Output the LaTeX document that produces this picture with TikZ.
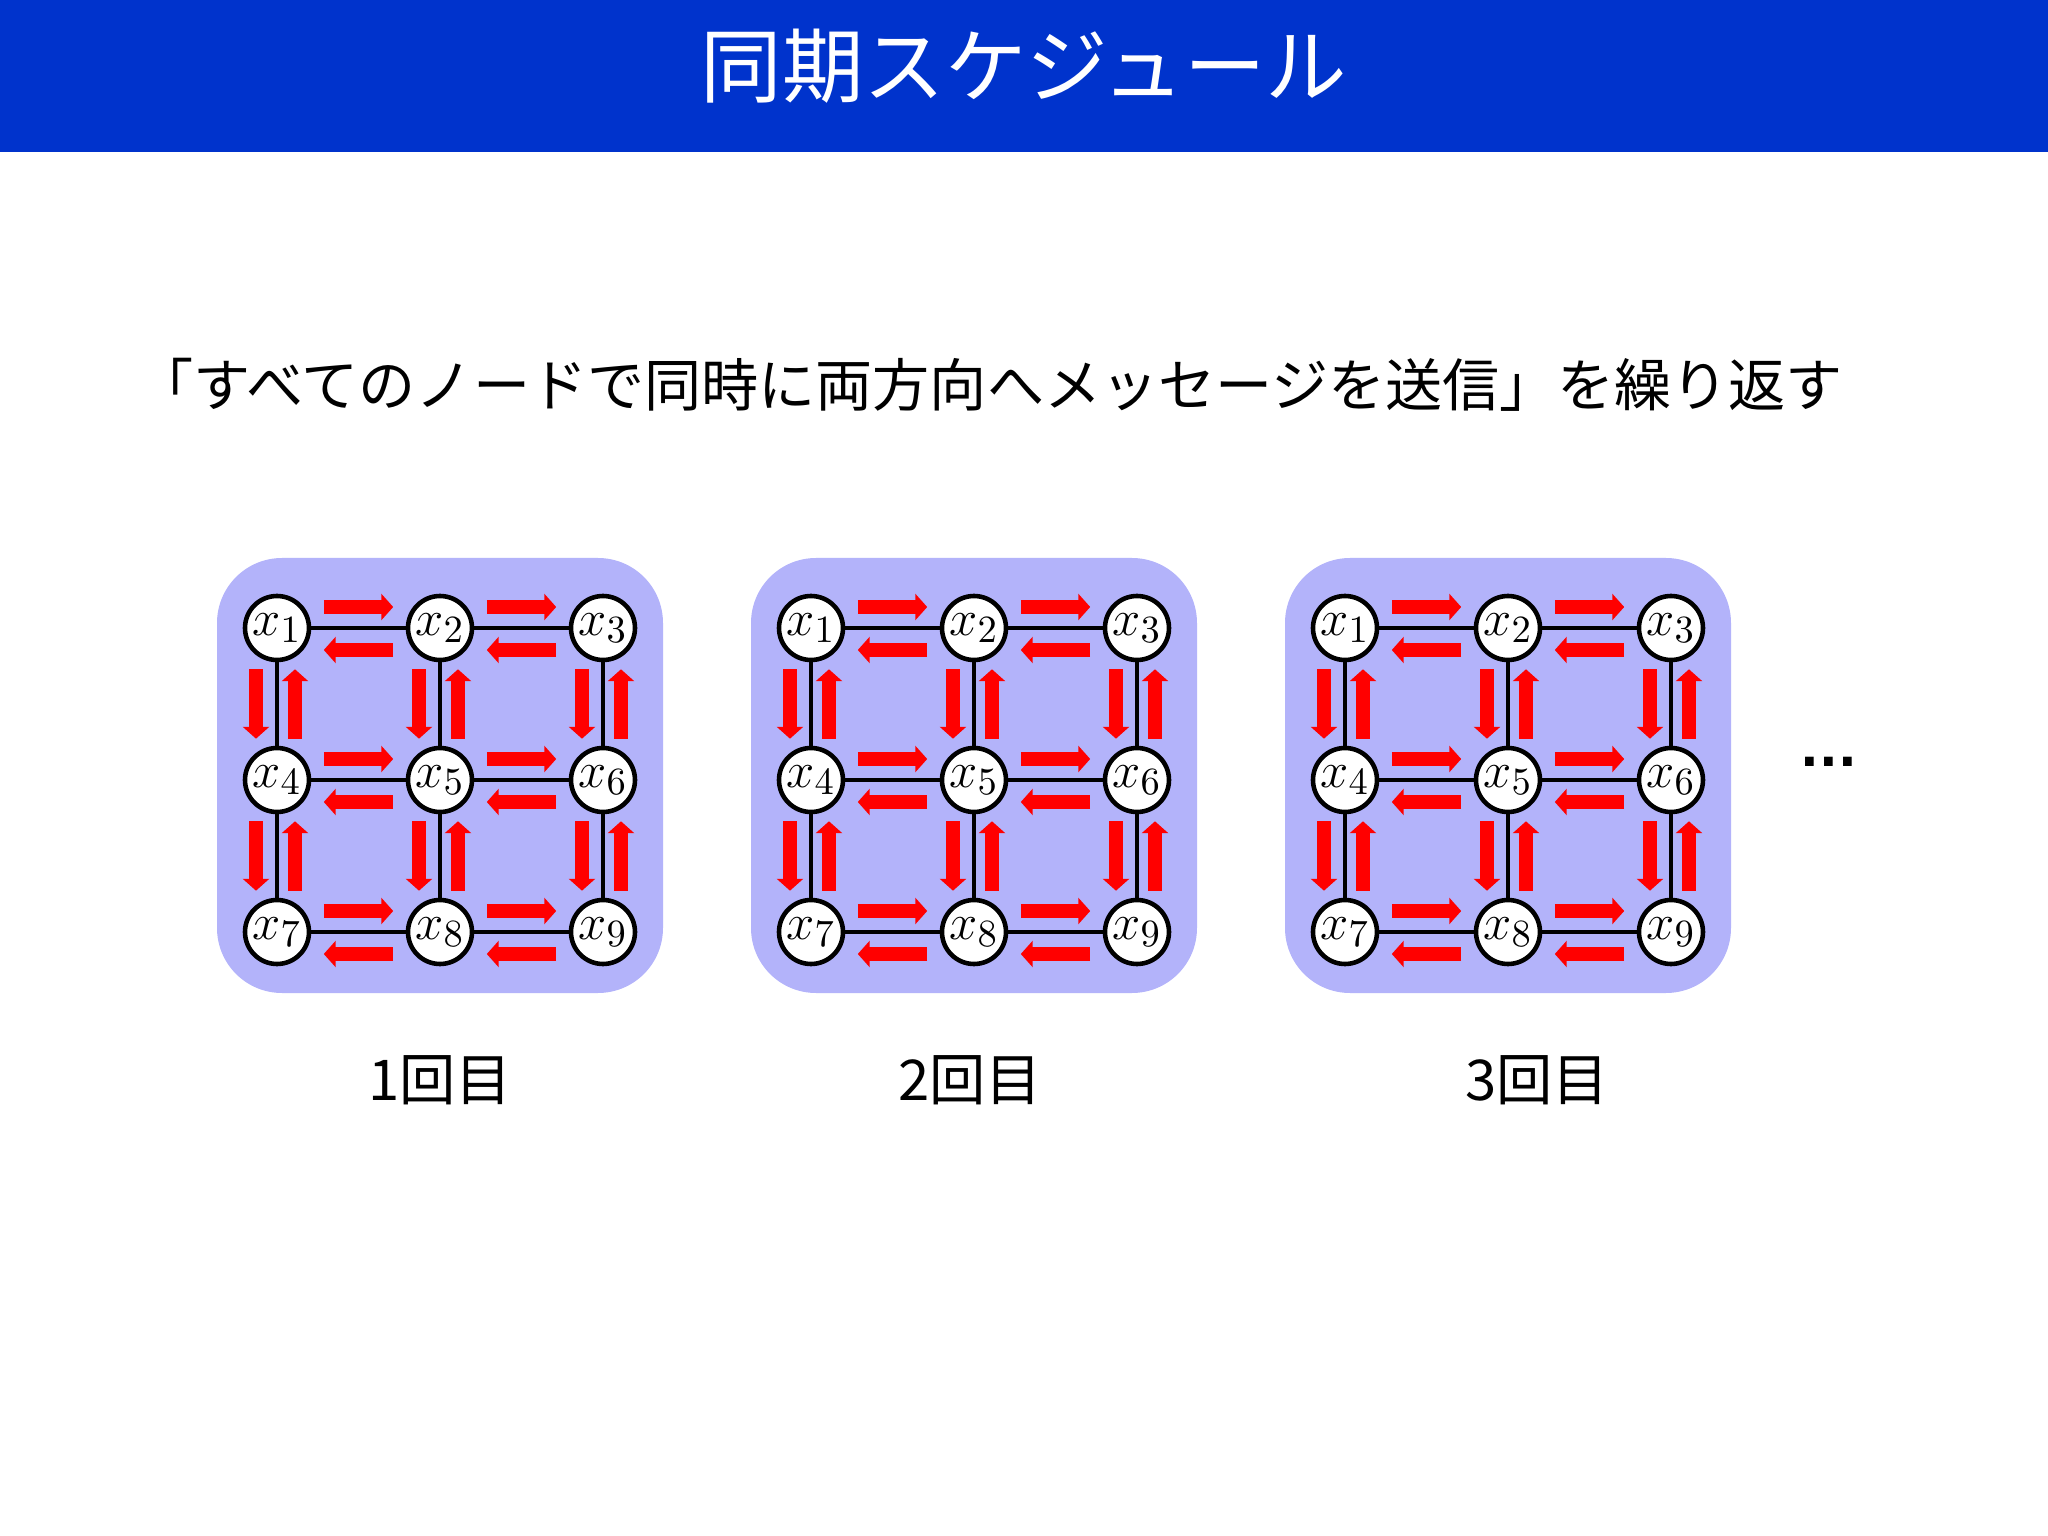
\documentclass[tikz,border=0pt]{standalone}
\usepackage{fontspec}
\usepackage{tikz}
\usetikzlibrary{arrows.meta}
\newfontfamily\jpfont{Noto Sans CJK JP}
\newfontfamily\dotfont{DejaVu Sans}
\definecolor{titleblue}{RGB}{0,51,204}
\definecolor{panelblue}{RGB}{179,179,250}
\tikzset{
  vtx/.style={shape=circle,draw=black,fill=white,line width=1.3pt,inner sep=0pt,minimum size=0.64cm,font=\fontsize{15.5}{15.5}\selectfont},
  link/.style={line width=1pt},
  msgh/.style={draw=red,line width=0.14cm,-{Triangle[width=7.4pt,length=3.4pt]},shorten <=1.25mm,shorten >=1.25mm},
  msgv/.style={draw=red,line width=0.14cm,-{Triangle[width=7.4pt,length=3.4pt]},shorten <=0.7mm,shorten >=0.7mm}
}
\newcommand{\hmsg}[2]{ \draw[msgh] ([yshift=2.1mm]#1.east) -- ([yshift=2.1mm]#2.west); \draw[msgh] ([yshift=-2.2mm]#2.west) -- ([yshift=-2.2mm]#1.east);}
\newcommand{\vmsg}[2]{ \draw[msgv] ([xshift=-2.1mm]#1.south) -- ([xshift=-2.1mm]#2.north); \draw[msgv] ([xshift=1.8mm]#2.north) -- ([xshift=1.8mm]#1.south);}
\newcommand{\gridpanel}[2]{
  \fill[panelblue,rounded corners=0.65cm] (#1-2.23,-5.58) rectangle (#1+2.23,-9.93);
  % row1
  \node[vtx] (#2x1) at (#1-1.63,-6.28) {$x_1$};
  \node[vtx] (#2x2) at (#1,-6.28) {$x_2$};
  \node[vtx] (#2x3) at (#1+1.63,-6.28) {$x_3$};
  % row2
  \node[vtx] (#2x4) at (#1-1.63,-7.80) {$x_4$};
  \node[vtx] (#2x5) at (#1,-7.80) {$x_5$};
  \node[vtx] (#2x6) at (#1+1.63,-7.80) {$x_6$};
  % row3
  \node[vtx] (#2x7) at (#1-1.63,-9.32) {$x_7$};
  \node[vtx] (#2x8) at (#1,-9.32) {$x_8$};
  \node[vtx] (#2x9) at (#1+1.63,-9.32) {$x_9$};
  % links
  \draw[link] (#2x1) -- (#2x2); \draw[link] (#2x2) -- (#2x3);
  \draw[link] (#2x4) -- (#2x5); \draw[link] (#2x5) -- (#2x6);
  \draw[link] (#2x7) -- (#2x8); \draw[link] (#2x8) -- (#2x9);
  \draw[link] (#2x1) -- (#2x4); \draw[link] (#2x4) -- (#2x7);
  \draw[link] (#2x2) -- (#2x5); \draw[link] (#2x5) -- (#2x8);
  \draw[link] (#2x3) -- (#2x6); \draw[link] (#2x6) -- (#2x9);
  % messages
  \hmsg{#2x1}{#2x2} \hmsg{#2x2}{#2x3}
  \hmsg{#2x4}{#2x5} \hmsg{#2x5}{#2x6}
  \hmsg{#2x7}{#2x8} \hmsg{#2x8}{#2x9}
  \vmsg{#2x1}{#2x4} \vmsg{#2x4}{#2x7}
  \vmsg{#2x2}{#2x5} \vmsg{#2x5}{#2x8}
  \vmsg{#2x3}{#2x6} \vmsg{#2x6}{#2x9}
}

\begin{document}
\begin{tikzpicture}
        \useasboundingbox (0,0) rectangle (20.48,-15.36);
        % title bar
        \fill[titleblue] (0,0) rectangle (20.48,-1.52);
        \node[text=white,font=\jpfont\fontsize{23.2}{23.2}\selectfont] (title) at (10.24,-0.66) {同期スケジュール};
        % subtitle
        \node[anchor=west,inner sep=0pt,font=\jpfont\fontsize{16.25}{16.25}\selectfont] (lead) at (1.36,-3.85) {「すべてのノードで同時に両方向へメッセージを送信」を繰り返す};

        % panels
        \gridpanel{4.40}{a}
        \gridpanel{9.74}{b}
        \gridpanel{15.08}{c}

        % more
        \node[font=\dotfont\bfseries\fontsize{14}{14}\selectfont] (more) at (18.29,-7.62) {...};

        % labels
        \node[font=\jpfont\fontsize{16}{16}\selectfont] (round1) at (4.40,-10.80) {1回目};
        \node[font=\jpfont\fontsize{16}{16}\selectfont] (round2) at (9.70,-10.80) {2回目};
        \node[font=\jpfont\fontsize{16}{16}\selectfont] (round3) at (15.37,-10.80) {3回目};
\end{tikzpicture}
\end{document}
